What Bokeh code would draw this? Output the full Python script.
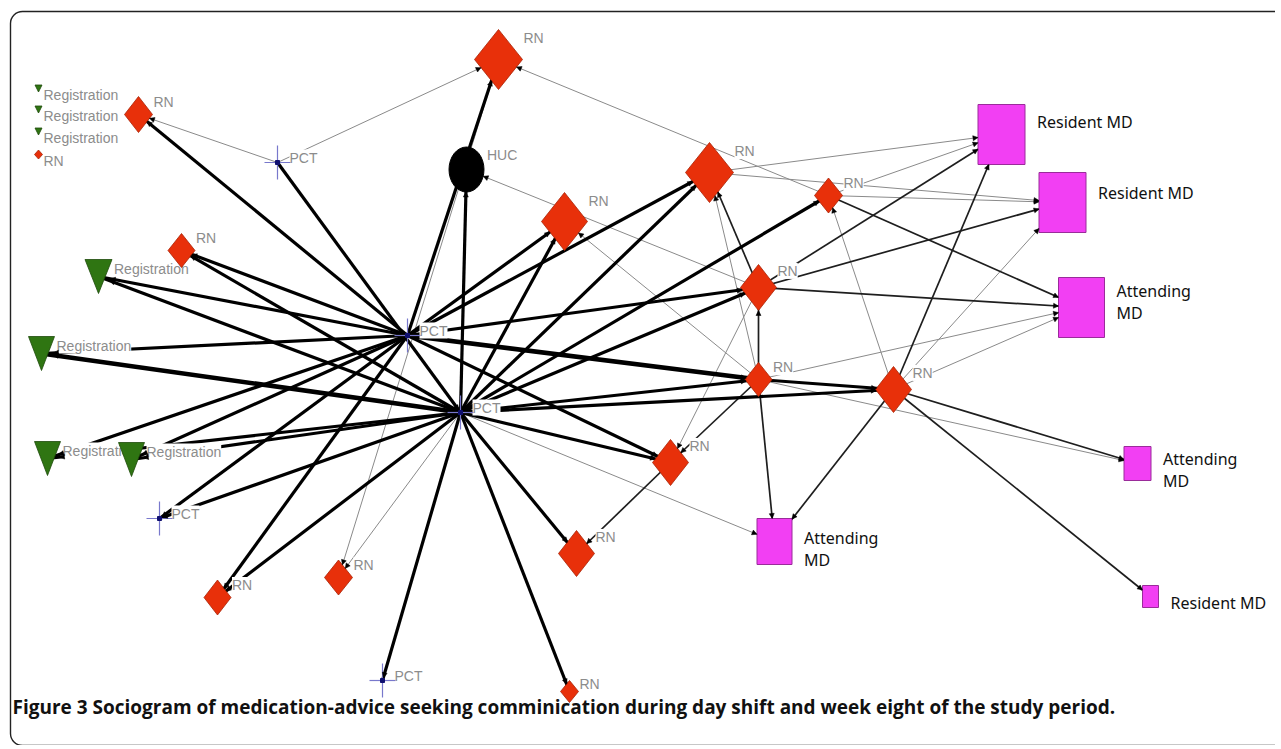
import math
from bokeh.plotting import figure
from bokeh.models import ColumnDataSource, Range1d, Label, Arrow, NormalHead, BoxAnnotation
from bokeh.core.properties import value
from bokeh.embed import file_html
from bokeh.resources import INLINE

# ---------------- data: nodes (layout) ----------------
node_id = ["A", "B", "C", "D", "E", "F", "G", "H", "I", "J", "K", "L", "M", "N", "O",
           "P", "Q", "R", "S", "T", "U", "V", "W", "X", "Y", "Z", "AA", "AB", "AC", "AD",
           "I1", "I2", "I3", "I4"]
node_role = ["rn", "huc", "pct", "rn", "rn", "reg", "reg", "reg", "reg", "pct", "pct", "pct", "rn", "rn", "pct",
             "rn", "rn", "rn", "rn", "rn", "rn", "rn", "rn", "rn", "md", "md", "md", "md", "md", "md",
             "reg", "reg", "reg", "rn"]
node_label = ["RN", "HUC", "PCT", "RN", "RN", "Registration", "Registration", "Registration", "Registration",
              "PCT", "PCT", "PCT", "RN", "RN", "PCT", "RN", "RN", "RN", "RN", "RN", "RN", "RN", "RN", "RN",
              "Resident MD", "Resident MD", "Attending\nMD", "Attending\nMD", "Attending\nMD", "Resident MD",
              "Registration", "Registration", "Registration", "RN"]
node_x = [498, 466, 277, 138, 181, 98, 41, 47, 131, 407, 460, 159, 217, 338, 382,
          569, 576, 670, 564, 709, 828, 758, 758, 893, 1001, 1062, 1081, 1137, 774, 1150,
          38, 38, 38, 38]
node_y = [59, 169, 162, 114, 250, 276, 353, 458, 459, 335, 412, 518, 597, 577, 680,
          691, 553, 462, 221, 172, 195, 287, 379, 389, 134, 202, 307, 463, 541, 596,
          88, 109, 131, 154]
node_w = [48, 35, 26, 28, 27, 27, 26, 26, 26, 26, 26, 26, 27, 28, 26,
          18, 36, 36, 46, 48, 28, 36, 27, 36, 47, 47, 46, 27, 35, 16,
          7, 7, 7, 8]
node_h = [60, 45, 34, 36, 34, 34, 34, 34, 34, 34, 34, 34, 35, 35, 34,
          22, 46, 46, 58, 60, 35, 46, 34, 46, 60, 60, 60, 34, 46, 22,
          7, 7, 7, 9]

# ---------------- data: ties (source, target, strength 1..4) ----------------
edge_src = ["C", "C", "C", "J", "J", "K", "J", "K", "J", "K", "J", "K", "J", "K", "J", "K", "J", "K",
            "A", "K", "K", "K", "K", "J", "K", "J", "K", "J", "K", "K", "J", "K", "J", "K", "K", "J", "K",
            "V", "U", "W", "V", "W", "T", "T", "U", "U", "X", "U", "V", "V", "V", "V", "W",
            "W", "W", "W", "W", "W", "X", "X", "X", "X", "X", "X", "R", "K"]
edge_dst = ["D", "A", "K", "D", "E", "E", "F", "F", "G", "G", "H", "H", "I", "I", "L", "L", "M", "M",
            "N", "N", "O", "P", "Q", "R", "R", "S", "S", "T", "T", "U", "V", "V", "W", "W", "X", "A", "B",
            "B", "A", "S", "T", "T", "Y", "Z", "Y", "Z", "U", "AA", "Y", "Z", "AA", "R", "V",
            "X", "AA", "R", "AC", "AB", "Y", "Z", "AA", "AB", "AD", "AC", "Q", "AC"]
edge_w = [1, 1, 3, 3, 3, 3, 3, 3, 3, 4, 3, 3, 3, 3, 3, 3, 3, 3,
          1, 1, 3, 3, 3, 3, 3, 3, 3, 3, 3, 3, 3, 3, 4, 3, 3, 3, 3,
          1, 1, 1, 2, 1, 1, 1, 1, 1, 1, 2, 2, 2, 2, 1, 2,
          3, 1, 2, 2, 1, 2, 1, 1, 2, 2, 2, 2, 1]

caption = "Figure 3 Sociogram of medication-advice seeking comminication during day shift and week eight of the study period."

# ---------------- styling ----------------
RN_FILL, RN_LINE = "#e8300a", "#a82205"
MD_FILL, MD_LINE = "#f23ff3", "#9a2c9a"
REG_FILL, REG_LINE = "#2f7512", "#1d4a0a"
EDGE_COLOR = {1: "#8a8a8a", 2: "#1e1e1e", 3: "#000000", 4: "#000000"}
EDGE_WIDTH = {1: 1.0, 2: 1.7, 3: 3.2, 4: 4.6}

W, H = 1275, 745
p = figure(width=W, height=H, x_range=Range1d(0, W), y_range=Range1d(H, 0),
           x_axis_type=None, y_axis_type=None, toolbar_location=None,
           output_backend="svg", min_border=0)
p.grid.visible = False
p.outline_line_color = None
p.background_fill_color = "white"

idx = {n: i for i, n in enumerate(node_id)}


def boundary(i, ux, uy):
    role, hw, hh = node_role[i], node_w[i] / 2, node_h[i] / 2
    if role == "rn":
        return 1.0 / (abs(ux) / hw + abs(uy) / hh)
    if role == "md":
        a = hw / abs(ux) if abs(ux) > 1e-6 else 1e9
        b = hh / abs(uy) if abs(uy) > 1e-6 else 1e9
        return min(a, b)
    if role == "huc":
        return 1.0 / math.sqrt((ux / hw) ** 2 + (uy / hh) ** 2)
    if role == "reg":
        return 12.0
    return 3.0


# ---------------- edges ----------------
order = sorted(range(len(edge_src)), key=lambda k: edge_w[k])
seg = dict(x0=[], y0=[], x1=[], y1=[], c=[], lw=[])
heads = {1: dict(xs=[], ys=[], xe=[], ye=[]), 2: dict(xs=[], ys=[], xe=[], ye=[])}
for k in order:
    s, t = idx[edge_src[k]], idx[edge_dst[k]]
    x0, y0, x1, y1 = node_x[s], node_y[s], node_x[t], node_y[t]
    seg["x0"].append(x0); seg["y0"].append(y0); seg["x1"].append(x1); seg["y1"].append(y1)
    seg["c"].append(EDGE_COLOR[edge_w[k]]); seg["lw"].append(EDGE_WIDTH[edge_w[k]])
    d = math.hypot(x1 - x0, y1 - y0)
    ux, uy = (x1 - x0) / d, (y1 - y0) / d
    r = boundary(t, ux, uy)
    xe, ye = x1 - ux * r, y1 - uy * r
    grp = 2 if edge_w[k] >= 3 else 1
    heads[grp]["xe"].append(xe); heads[grp]["ye"].append(ye)
    heads[grp]["xs"].append(xe - ux * 12); heads[grp]["ys"].append(ye - uy * 12)

p.segment("x0", "y0", "x1", "y1", source=ColumnDataSource(seg), line_color="c", line_width="lw")
for grp, sz in ((1, 5), (2, 5)):
    p.add_layout(Arrow(end=NormalHead(size=sz, fill_color="black", line_color="black", line_width=0.5),
                       x_start="xs", y_start="ys", x_end="xe", y_end="ye",
                       source=ColumnDataSource(heads[grp]), line_alpha=0, level="glyph"))

# ---------------- labels (white boxes hide the ties beneath them) ----------------
gray = dict(x=[], y=[], t=[])
dark = dict(x=[], y=[], t=[])
md_dy = {"Y": -13, "Z": -10, "AA": -6, "AB": 6, "AC": 7, "AD": 6}
for i, n in enumerate(node_id):
    role = node_role[i]
    x, y, hw, hh = node_x[i], node_y[i], node_w[i] / 2, node_h[i] / 2
    if n.startswith("I") and len(n) == 2:
        gray["x"].append(x + 5); gray["y"].append(y + 6); gray["t"].append(node_label[i])
    elif role == "md":
        dark["x"].append(x + hw + 12); dark["y"].append(y + md_dy[n]); dark["t"].append(node_label[i])
    elif role == "rn":
        gray["x"].append(x + hw + 1); gray["y"].append(y - 0.72 * hh); gray["t"].append(node_label[i])
    elif role == "reg":
        gray["x"].append(x + hw + 2); gray["y"].append(y - 8); gray["t"].append(node_label[i])
    elif role == "huc":
        gray["x"].append(x + hw + 3); gray["y"].append(y - 15); gray["t"].append(node_label[i])
    else:
        gray["x"].append(x + 12); gray["y"].append(y - 5); gray["t"].append(node_label[i])

p.text(x="x", y="y", text="t", source=ColumnDataSource(gray),
       text_font=value("Liberation Sans"), text_font_size=value("14px"), text_color="#8c8c8c",
       text_baseline="middle", text_align="left",
       background_fill_color="white", background_fill_alpha=1.0)

# ---------------- nodes ----------------
def sel(role):
    return [i for i in range(len(node_id)) if node_role[i] == role]

rn = sel("rn")
p.patches(xs=[[node_x[i], node_x[i] + node_w[i] / 2, node_x[i], node_x[i] - node_w[i] / 2] for i in rn],
          ys=[[node_y[i] - node_h[i] / 2, node_y[i], node_y[i] + node_h[i] / 2, node_y[i]] for i in rn],
          fill_color=RN_FILL, line_color=RN_LINE, line_width=0.8)

reg = sel("reg")
p.patches(xs=[[node_x[i] - node_w[i] / 2, node_x[i] + node_w[i] / 2, node_x[i]] for i in reg],
          ys=[[node_y[i] - node_h[i] / 2, node_y[i] - node_h[i] / 2, node_y[i] + node_h[i] / 2] for i in reg],
          fill_color=REG_FILL, line_color=REG_LINE, line_width=0.8)

md = sel("md")
p.rect(x=[node_x[i] for i in md], y=[node_y[i] for i in md],
       width=[node_w[i] for i in md], height=[node_h[i] for i in md],
       fill_color=MD_FILL, line_color=MD_LINE, line_width=1)

huc = sel("huc")
p.ellipse(x=[node_x[i] for i in huc], y=[node_y[i] for i in huc],
          width=[node_w[i] for i in huc], height=[node_h[i] for i in huc],
          fill_color="black", line_color="black")

pct = sel("pct")
p.segment(x0=[node_x[i] - node_w[i] / 2 for i in pct], y0=[node_y[i] for i in pct],
          x1=[node_x[i] + node_w[i] / 2 for i in pct], y1=[node_y[i] for i in pct],
          line_color="#7878cc", line_width=1.2)
p.segment(x0=[node_x[i] for i in pct], y0=[node_y[i] - node_h[i] / 2 for i in pct],
          x1=[node_x[i] for i in pct], y1=[node_y[i] + node_h[i] / 2 for i in pct],
          line_color="#7878cc", line_width=1.2)
p.scatter(x=[node_x[i] for i in pct], y=[node_y[i] for i in pct], marker="square", size=4,
          fill_color="#101070", line_color="#101070")

p.text(x="x", y="y", text="t", source=ColumnDataSource(dark),
       text_font=value("Noto Sans"), text_font_size=value("16px"), text_color="#111111",
       text_baseline="middle", text_align="left", text_line_height=1.0)

p.add_layout(Label(x=12, y=706, text=caption, text_font="Open Sans", text_font_style="bold",
                   text_font_size="19px", text_color="#111111", text_baseline="middle"))

p.add_layout(BoxAnnotation(left=10, right=1400, top=11, bottom=745, border_radius=12,
                           fill_alpha=0, line_color="#222222", line_alpha=1.0, line_width=1.4))

open("out.html", "w").write(file_html(p, INLINE))
